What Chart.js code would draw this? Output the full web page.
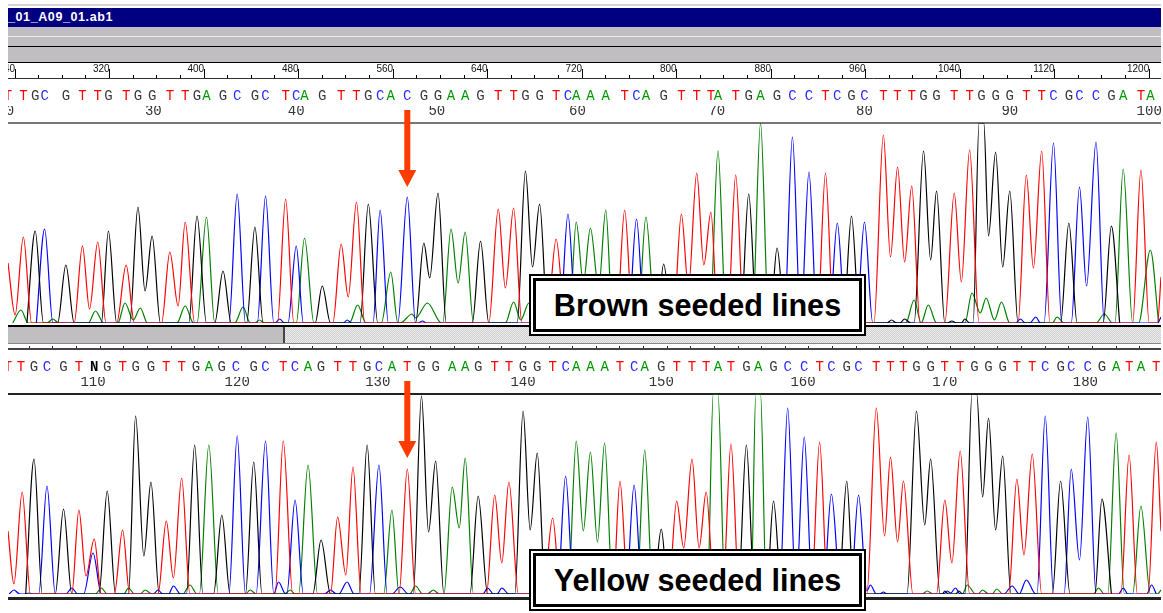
<!DOCTYPE html>
<html>
<head>
<meta charset="utf-8">
<title>Brown and yellow seeded lines</title>
<script src="https://cdn.jsdelivr.net/npm/chart.js@4/dist/chart.umd.min.js"></script>
<style>
  html, body { margin: 0; padding: 0; background: #fff; overflow: hidden; }
  body { width: 1163px; height: 613px; position: relative; font-family: "Liberation Sans", Arial, sans-serif; }
  .strip { position: absolute; left: 8px; width: 1153px; }
  canvas { position: absolute; left: 8px; }
  .title { color: #fff; font-weight: bold; font-size: 12.5px; letter-spacing: 0.6px; line-height: 19px; white-space: nowrap; }
  .thumb { background: #c0bec0; }
  .dither { background: repeating-conic-gradient(#cfcfcf 0 25%, #ececec 0 50%) 0 0 / 2px 2px; }
  .tag {
    position: absolute; left: 529px; width: 337px; height: 62px; box-sizing: border-box;
    border: 2px solid #000; background: #fff; padding: 2px; z-index: 5;
  }
  .tag div {
    box-sizing: border-box; height: 100%; border: 3px solid #000; text-align: center;
    font-weight: bold; font-size: 30.6px; line-height: 48px; color: #000; white-space: nowrap;
  }
</style>
</head>
<body>
<div class="strip" style="top:4px;height:2px;background:#d4d4d4"></div>
<div class="strip title" style="top:8px;height:19px;background:#000080">_01_A09_01.ab1</div>
<div class="strip" style="top:27px;height:9px;background:#c0bec0"></div>
<div class="strip" style="top:36px;height:1px;background:#ececec"></div>
<div class="strip" style="top:37px;height:9px;background:#c0bec0"></div>
<div class="strip" style="top:46px;height:1px;background:#000"></div>
<div class="strip" style="top:47px;height:15px;background:#c0bec0"></div>
<div class="strip" style="top:62px;height:1px;background:#000"></div>

<canvas id="topChart" width="1153" height="262" style="top:63px"></canvas>

<div class="strip" style="top:325px;height:2px;background:#000"></div>
<div class="strip thumb" style="top:327px;height:16px;width:275px"></div>
<div class="strip" style="top:327px;height:16px;left:283px;width:2px;background:#444"></div>
<div class="strip dither" style="top:327px;height:16px;left:285px;width:876px"></div>
<div class="strip" style="top:343px;height:1px;background:#888"></div>

<canvas id="bottomChart" width="1153" height="252" style="top:344px"></canvas>

<div class="strip" style="top:597px;height:3px;background:#222"></div>

<div class="tag" style="top:274px"><div>Brown seeded lines</div></div>
<div class="tag" style="top:549px"><div>Yellow seeded lines</div></div>

<script>
// trace points are [scan, signal]
const scanMin = 234;
const scanMax = 1210;

const topRed = [[234,60],[240,8],[247,86],[254,0],[290,0],[297,77],[303,14],[310,81],[317,0],[326,0],[334,58],[341,0],[364,0],[371,71],[378,17],[384,101],[392,0],[462,0],[469,124],[476,0],[509,0],[516,79],[522,26],[529,121],[536,0],[641,0],[649,114],[655,35],[662,115],[669,0],[690,0],[698,84],[706,0],[749,0],[756,113],[763,0],[797,0],[804,109],[810,35],[817,150],[823,58],[829,111],[835,0],[843,0],[850,148],[857,0],[919,0],[926,150],[933,0],[967,0],[975,188],[981,66],[987,156],[993,61],[999,137],[1006,0],[1027,0],[1035,130],[1041,41],[1048,173],[1056,0],[1089,0],[1096,148],[1102,55],[1109,172],[1116,0],[1186,0],[1193,153],[1200,0],[1207,0],[1210,46]];
const topBlack = [[250,0],[257,92],[264,0],[276,0],[283,58],[290,0],[313,0],[319,92],[326,0],[337,0],[344,116],[350,32],[356,87],[363,0],[387,0],[394,107],[402,0],[409,0],[416,52],[423,0],[436,0],[443,96],[450,0],[494,0],[500,37],[507,0],[532,0],[539,119],[547,0],[579,0],[586,80],[591,45],[598,130],[605,0],[627,0],[634,82],[641,0],[665,0],[672,152],[678,56],[684,119],[691,0],[783,0],[789,59],[796,0],[854,0],[861,129],[868,0],[879,0],[885,75],[892,0],[941,0],[948,107],[955,0],[978,0],[982,3],[986,0],[989,0],[993,4],[998,0],[1001,0],[1009,172],[1015,63],[1020,132],[1027,0],[1029,0],[1033,2],[1037,0],[1041,0],[1044,4],[1048,0],[1051,0],[1056,200],[1060,200],[1064,87],[1070,171],[1076,56],[1082,132],[1089,0],[1125,0],[1132,100],[1139,0],[1161,0],[1168,97],[1175,0]];
const topBlue = [[258,0],[265,94],[272,0],[421,0],[428,129],[435,0],[445,0],[452,127],[459,0],[460,0],[464,4],[468,0],[471,0],[478,77],[484,0],[518,0],[521,3],[525,0],[543,0],[549,113],[556,0],[564,0],[572,126],[579,0],[581,0],[585,2],[588,0],[701,0],[708,109],[715,0],[759,0],[766,104],[773,0],[891,0],[898,186],[905,0],[912,151],[919,0],[929,0],[936,100],[943,0],[952,0],[959,101],[966,0],[1087,0],[1091,4],[1095,0],[1099,0],[1104,6],[1108,0],[1111,0],[1119,180],[1126,0],[1134,0],[1141,136],[1147,37],[1155,181],[1162,0],[1207,0],[1210,6]];
const topGreen = [[238,0],[245,13],[251,0],[267,0],[272,4],[277,0],[302,0],[308,12],[315,0],[327,0],[333,20],[340,3],[346,15],[352,0],[377,0],[384,17],[391,0],[394,0],[402,106],[409,0],[426,0],[433,16],[439,0],[443,0],[447,3],[451,0],[478,0],[485,85],[493,0],[523,0],[530,18],[537,0],[550,0],[558,51],[564,0],[566,0],[576,9],[579,5],[589,20],[601,0],[602,0],[609,94],[615,40],[621,91],[628,0],[655,0],[662,21],[668,3],[675,20],[682,0],[709,0],[715,101],[721,40],[727,95],[734,35],[740,113],[746,0],[767,0],[774,106],[782,0],[828,0],[835,172],[842,0],[864,0],[871,200],[878,0],[994,0],[1001,23],[1007,0],[1013,18],[1020,0],[1044,0],[1050,30],[1057,10],[1062,25],[1069,3],[1075,21],[1082,0],[1118,0],[1122,6],[1128,0],[1155,0],[1162,9],[1169,0],[1171,0],[1178,154],[1186,0],[1191,0],[1201,73],[1208,0]];

const bottomRed = [[234,63],[239,10],[246,102],[253,0],[288,0],[294,84],[300,18],[307,55],[313,0],[324,0],[331,64],[337,0],[361,0],[368,73],[374,16],[381,116],[388,0],[460,0],[467,153],[475,0],[507,0],[513,77],[520,19],[526,127],[533,0],[565,0],[572,125],[579,0],[639,0],[646,99],[652,31],[658,112],[666,0],[687,0],[695,76],[702,0],[746,0],[752,113],[759,0],[793,0],[800,93],[806,46],[813,135],[819,46],[825,102],[832,0],[839,0],[846,150],[853,0],[914,0],[921,152],[928,0],[961,0],[969,186],[976,58],[981,137],[987,52],[992,113],[1000,0],[1020,0],[1027,94],[1033,31],[1040,143],[1048,0],[1081,0],[1088,115],[1094,39],[1101,140],[1109,0],[1176,0],[1183,139],[1190,0],[1199,0],[1206,152],[1210,63]];
const bottomBlack = [[249,0],[256,135],[263,0],[274,0],[281,85],[288,0],[311,0],[318,103],[325,0],[336,0],[342,178],[349,38],[355,112],[362,0],[385,0],[392,149],[399,0],[408,0],[415,79],[422,0],[435,0],[442,132],[449,0],[492,0],[499,54],[507,0],[531,0],[538,149],[545,0],[577,0],[584,198],[590,62],[596,133],[603,0],[625,0],[632,98],[640,0],[663,0],[670,183],[676,64],[682,141],[689,0],[780,0],[787,65],[793,0],[852,0],[859,149],[866,0],[876,0],[882,93],[889,0],[937,0],[944,113],[950,0],[995,0],[1003,183],[1010,69],[1015,135],[1023,0],[1025,0],[1027,3],[1030,0],[1036,0],[1039,3],[1042,0],[1044,0],[1050,200],[1054,200],[1059,97],[1064,176],[1070,64],[1076,138],[1083,0],[1118,0],[1125,113],[1133,0],[1154,0],[1160,95],[1168,0]];
const bottomBlue = [[235,0],[239,4],[244,0],[260,0],[267,108],[274,0],[283,0],[288,6],[293,0],[298,0],[306,41],[313,0],[357,0],[361,4],[365,0],[370,0],[374,8],[380,0],[421,0],[428,158],[435,0],[444,0],[452,153],[459,0],[463,12],[469,0],[470,0],[477,94],[484,0],[502,0],[507,4],[512,0],[514,0],[521,12],[527,0],[540,0],[548,129],[555,0],[559,0],[566,7],[573,0],[636,0],[640,6],[645,0],[648,0],[652,6],[658,0],[699,0],[706,118],[713,0],[757,0],[764,109],[771,0],[887,0],[894,186],[901,0],[908,157],[915,0],[924,0],[931,100],[939,0],[947,0],[954,99],[961,3],[964,9],[969,0],[972,0],[975,2],[978,0],[1026,0],[1029,3],[1032,1],[1036,6],[1040,0],[1077,0],[1084,8],[1090,0],[1096,14],[1104,0],[1105,0],[1112,178],[1119,0],[1128,0],[1134,125],[1141,34],[1148,177],[1155,0],[1174,0],[1178,6],[1182,0],[1198,0],[1202,9],[1206,0]];
const bottomGreen = [[248,0],[252,1],[255,0],[308,0],[313,6],[318,0],[332,0],[336,6],[341,0],[346,0],[350,4],[356,0],[382,0],[388,9],[394,0],[396,0],[404,149],[412,0],[435,0],[439,4],[444,0],[468,0],[473,4],[477,0],[480,0],[488,129],[496,0],[552,0],[559,84],[565,0],[574,0],[579,8],[585,0],[589,0],[594,4],[599,0],[603,0],[610,107],[616,66],[621,136],[628,0],[708,0],[715,153],[721,63],[727,142],[733,52],[739,151],[746,0],[766,0],[773,144],[780,0],[826,0],[831,200],[835,200],[841,0],[863,0],[867,200],[871,200],[876,0],[1008,0],[1012,3],[1017,0],[1042,0],[1046,9],[1053,0],[1055,0],[1059,4],[1064,0],[1067,0],[1071,5],[1076,0],[1153,0],[1157,6],[1162,0],[1165,0],[1172,161],[1179,0],[1186,0],[1193,88],[1201,0],[1207,0],[1210,4]];

// base calls along each trace
const topCalls = 'TTGCGTTGTGGTTGAGCGCTCAGTTGCACGGAAGTTGGTCAAATCAGTTTATGAGCCTCGCTTTGGTTGGGTTCGCCGATA'.split('');
const topCallScans = [234,247,257,265,283,297,310,319,334,344,356,371,384,394,402,416,428,443,452,469,478,485,500,516,529,539,549,558,572,586,598,609,621,634,649,662,672,684,698,708,715,727,740,756,766,774,789,804,817,829,835,850,861,871,885,898,912,926,936,948,959,975,987,999,1009,1020,1035,1048,1058,1070,1082,1096,1109,1119,1132,1141,1155,1168,1178,1193,1201];
const bottomCalls = 'TTGCGTNGTGGTTGAGCGCTCAGTTGCATGGAAGTTGGTCAAATCAGTTTATGAGCCTCGCTTTGGTTGGGTTCGCCGATAT'.split('');
const bottomCallScans = [234,245,256,267,281,294,307,318,331,342,355,368,381,393,404,415,427,442,452,467,477,488,499,513,526,538,548,559,572,584,596,610,621,632,646,658,670,682,695,706,715,727,739,752,764,773,787,800,813,825,835,846,859,869,882,894,908,921,931,944,954,969,981,992,1003,1015,1027,1040,1052,1064,1076,1088,1101,1112,1125,1134,1148,1160,1172,1183,1193,1206];

const topNumbers = [20,30,40,50,60,70,80,90,100];
const topNumberScans = [232,357,478,597,716,834,959,1082,1200];
const bottomNumbers = [110,120,130,140,150,160,170,180];
const bottomNumberScans = [306,428,547,670,787,907,1027,1146];

const rulerLabels = [240,320,400,480,560,640,720,800,880,960,1040,1120,1200];
const rulerSmall = [260,280,300,340,360,380,420,440,460,500,520,540,580,600,620,660,680,700,740,760,780,820,840,860,900,920,940,980,1000,1020,1060,1080,1100,1140,1160,1180];
const lowerRulerTicks = [252,272,292,312,332,352,372,392,412,432,452,472,492,512,532,552,572,592,612,632,652,672,692,712,732,752,772,792,812,832,852,872,892,912,932,952,972,992,1012,1032,1052,1072,1092,1112,1132,1152,1172,1192];

const arrowScan = 572;
const arrowTip = 136;

const baseColors = { T: '#ff0000', G: '#3a3a3a', C: '#2a2aff', A: '#009a00', N: '#000' };

function traces(red, black, blue, green) {
  const make = (data, color) => ({
    data, borderColor: color, borderWidth: 1.2, pointRadius: 0,
    cubicInterpolationMode: 'monotone', xAxisID: 'x', yAxisID: 'y'
  });
  return [make(red, '#ff0000'), make(black, '#000000'), make(blue, '#0000ff'), make(green, '#008000')];
}

// a horizontal axis on top of the plot, with ticks only where we say
function topAxis(values, height, weight, extra) {
  return Object.assign({
    type: 'linear', axis: 'x', position: 'top', min: scanMin, max: scanMax, weight,
    afterBuildTicks: s => { s.ticks = values.map(v => ({ value: v })); },
    afterFit: s => { s.height = height; s.paddingLeft = 0; s.paddingRight = 0; },
    grid: { display: false, drawTicks: false, drawOnChartArea: false },
    border: { display: false }
  }, extra);
}

function callAxis(calls, scans, weight) {
  return topAxis(scans, 28, weight, {
    ticks: {
      autoSkip: false, maxRotation: 0, padding: 1,
      callback: (v, i) => calls[i],
      color: c => baseColors[calls[c.index]],
      font: c => ({ family: 'Liberation Mono', size: 14, weight: calls[c.index] === 'N' ? 'bold' : 'normal' })
    }
  });
}

function numberAxis(numbers, scans, weight) {
  return topAxis(scans, 17, weight, {
    border: { display: true, color: numbers[0] === 20 ? '#777' : '#222', width: 2 },
    ticks: {
      autoSkip: false, maxRotation: 0, padding: 3, color: '#333',
      callback: (v, i) => numbers[i],
      font: { family: 'Liberation Mono', size: 14 }
    }
  });
}

// red marker pointing at the changed base
const arrowPlugin = {
  id: 'arrow',
  afterDraw(chart) {
    const g = chart.ctx;
    const x = chart.scales.x.getPixelForValue(arrowScan);
    const y = chart.scales.y.getPixelForValue(arrowTip);
    g.save();
    g.fillStyle = '#ff3c00';
    g.beginPath();
    g.moveTo(x - 3, y - 77);
    g.lineTo(x + 3, y - 77);
    g.lineTo(x + 3, y - 17);
    g.lineTo(x + 9, y - 17);
    g.lineTo(x, y);
    g.lineTo(x - 9, y - 17);
    g.lineTo(x - 3, y - 17);
    g.closePath();
    g.fill();
    g.restore();
  }
};

const sharedOptions = {
  responsive: false,
  animation: false,
  layout: { padding: { left: 0, right: 0, top: 0, bottom: 2 } },
  plugins: { legend: { display: false }, tooltip: { enabled: false }, title: { display: false } }
};

new Chart(document.getElementById('topChart').getContext('2d'), {
  type: 'line',
  data: { datasets: traces(topRed, topBlack, topBlue, topGreen) },
  plugins: [arrowPlugin],
  options: Object.assign({}, sharedOptions, {
    scales: {
      x: topAxis(rulerLabels, 15, 4, {
        border: { display: true, color: '#333', width: 1 },
        grid: { display: true, drawOnChartArea: false, drawTicks: true, tickLength: 9, color: '#000' },
        ticks: {
          autoSkip: false, maxRotation: 0, align: 'end', padding: -6, color: '#111',
          callback: v => String(v),
          font: { family: 'Liberation Sans', size: 10 }
        }
      }),
      xSmall: topAxis(rulerSmall, 0, 3, {
        grid: { display: true, drawOnChartArea: false, drawTicks: true, tickLength: 3, color: '#000' },
        ticks: { display: false, autoSkip: false }
      }),
      xCall: callAxis(topCalls, topCallScans, 2),
      xNumber: numberAxis(topNumbers, topNumberScans, 1),
      y: { display: false, min: 0, max: 200 }
    }
  })
});

new Chart(document.getElementById('bottomChart').getContext('2d'), {
  type: 'line',
  data: { datasets: traces(bottomRed, bottomBlack, bottomBlue, bottomGreen) },
  plugins: [arrowPlugin],
  options: Object.assign({}, sharedOptions, {
    scales: {
      x: topAxis(lowerRulerTicks, 5, 4, {
        border: { display: true, color: '#444', width: 2 },
        grid: { display: true, drawOnChartArea: false, drawTicks: true, tickLength: 3, color: '#222' },
        ticks: { display: false, autoSkip: false }
      }),
      xCall: callAxis(bottomCalls, bottomCallScans, 2),
      xNumber: numberAxis(bottomNumbers, bottomNumberScans, 1),
      y: { display: false, min: 0, max: 200 }
    }
  })
});
</script>
</body>
</html>
